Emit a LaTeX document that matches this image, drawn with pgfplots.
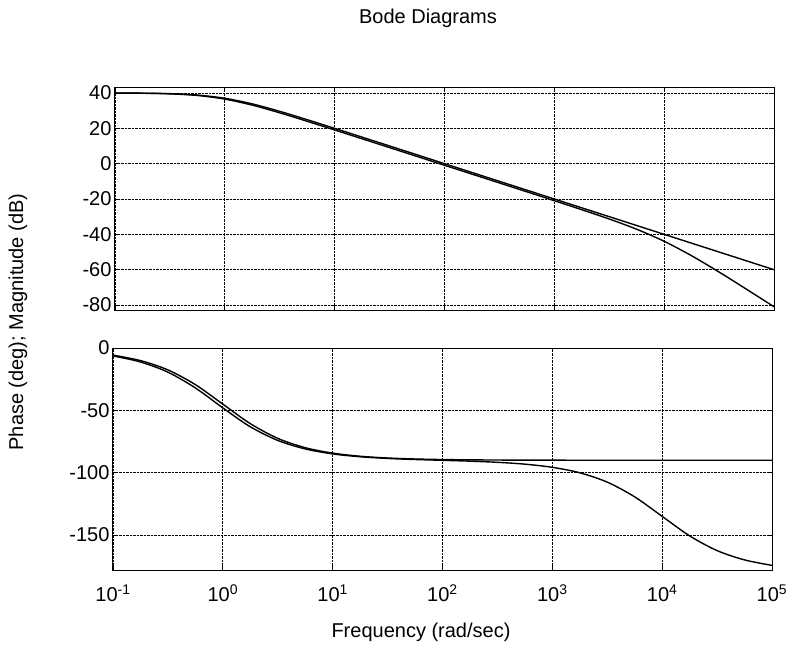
\documentclass[border=0pt]{standalone}
\usepackage{pgfplots}
\pgfplotsset{compat=1.18}
\usepackage{fontspec}
\setmainfont{Liberation Sans}

% magnitude (dB) and phase (deg), two systems
\pgfplotstableread{
w        magA    magB    phA      phB
0.1      39.96   39.95   -5.71    -6.34
0.1778   39.86   39.83   -10.08   -11.18
0.3162   39.59   39.49   -17.55   -19.36
0.5623   38.81   38.57   -29.36   -32.00
1        36.99   36.51   -45.00   -48.01
1.778    33.81   33.10   -60.64   -63.16
3.162    29.59   28.75   -72.45   -74.11
5.623    24.87   23.97   -79.92   -80.91
10       19.96   19.05   -84.29   -84.92
17.78    14.99   14.07   -86.78   -87.20
31.62    10.00   9.08    -88.19   -88.55
56.23    5.00    4.08    -88.98   -89.40
100      0.00    -0.92   -89.43   -90.05
177.8    -5.00   -5.92   -89.68   -90.73
316.2    -10.00  -10.92  -89.82   -91.65
562.3    -15.00  -15.92  -89.90   -93.13
1000     -20.00  -20.96  -89.94   -95.66
1778     -25.00  -26.06  -89.97   -100.05
3162     -30.00  -31.33  -89.98   -107.53
5623     -35.00  -37.11  -89.99   -119.35
10000    -40.00  -43.93  -90.00   -134.99
17783    -45.00  -52.11  -90.00   -150.63
31623    -50.00  -61.33  -90.00   -162.44
56234    -55.00  -71.06  -90.00   -169.91
100000   -60.00  -80.96  -90.00   -174.28
}\bode

\pgfplotsset{
  every axis/.append style={
    scale only axis, width=659pt, height=222pt,
    xmin=0.1, xmax=1e5,
    xtick={0.1,1,10,100,1000,10000,100000},
    minor tick style={draw=none},
    grid=major,
    major grid style={densely dotted, black, line width=0.7pt},
    axis line style={black, line width=1pt},
    tick align=inside, major tick length=4pt,
    tick style={black, line width=0.8pt},
    ticklabel style={font=\fontsize{20}{24}\selectfont},
    cycle list={{black},{black}},
    no markers,
  },
  every axis plot post/.append style={black, line width=1.4pt, smooth},
}

\begin{document}
\begin{tikzpicture}[x=1pt,y=1pt]
\useasboundingbox (-115,88) rectangle (672,-564);

\begin{semilogxaxis}[name=mag, at={(0,0)}, anchor=north west,
    ymin=-82.8, ymax=42.8,
    ytick={-80,-60,-40,-20,0,20,40},
    yticklabels={-80,-60,-40,-20,0,20,40},
    xticklabels={}]
  \addplot table[x=w, y=magA] {\bode};
  \addplot table[x=w, y=magB] {\bode};
\end{semilogxaxis}

\begin{semilogxaxis}[at={(mag.south west)}, anchor=north west,
    yshift=-38pt, xshift=-2pt,
    ymin=-178, ymax=0,
    ytick={-150,-100,-50,0},
    yticklabels={-150,-100,-50,0},
    xticklabels={10\textsuperscript{-1},10\textsuperscript{0},10\textsuperscript{1},10\textsuperscript{2},10\textsuperscript{3},10\textsuperscript{4},10\textsuperscript{5}},
    xticklabel style={yshift=-11pt}]
  \addplot table[x=w, y=phA] {\bode};
  \addplot table[x=w, y=phB] {\bode};
\end{semilogxaxis}

\node[font=\fontsize{20}{24}\selectfont] at (313,70) {Bode Diagrams};
\node[font=\fontsize{20}{24}\selectfont, rotate=90] at (-97,-234) {Phase (deg); Magnitude (dB)};
\node[font=\fontsize{20}{24}\selectfont] at (306,-544) {Frequency (rad/sec)};
\end{tikzpicture}
\end{document}
